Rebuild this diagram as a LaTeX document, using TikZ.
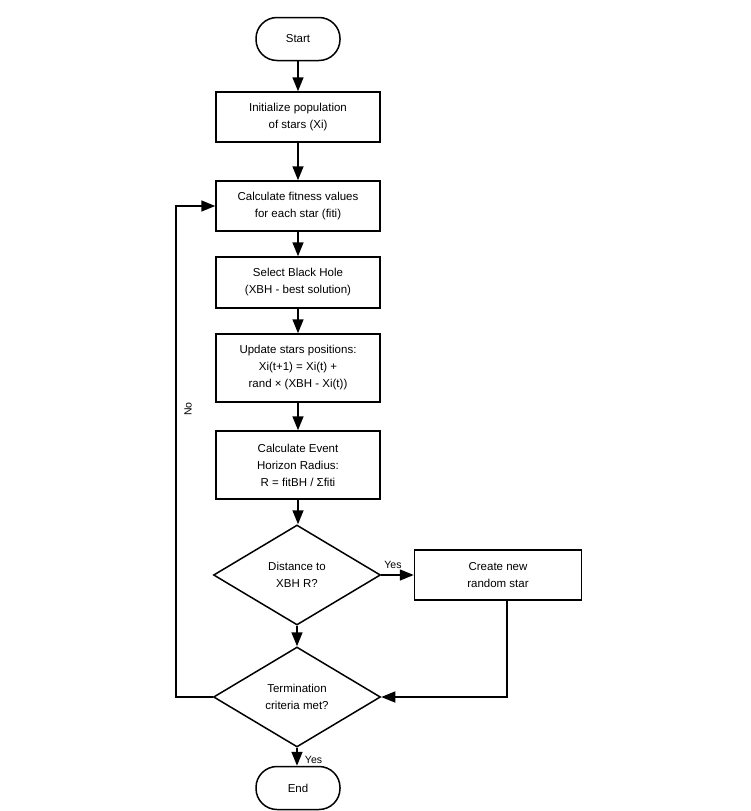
\documentclass[tikz,border=0pt]{standalone}
\usepackage{fontspec}
\setmainfont{Liberation Sans}
\usetikzlibrary{shapes.geometric, arrows.meta}

\begin{document}
\begin{tikzpicture}[x=1pt, y=1pt, yscale=-1, xscale=1,
  every node/.style={font=\fontsize{11.5}{17}\selectfont, align=center},
  proc/.style={draw, line width=1.5pt, rectangle, minimum width=164pt, inner sep=0pt},
  term/.style={draw, line width=1.5pt, rectangle, rounded corners=21pt, minimum width=84pt, minimum height=43pt},
  decide/.style={draw, line width=1.5pt, diamond, minimum width=167pt, minimum height=100pt, inner sep=0pt},
  flow/.style={line width=1.5pt, -{Triangle[length=14pt, width=11pt]}},
  lbl/.style={font=\fontsize{10.5}{12}\selectfont, inner sep=0.75pt}]
\useasboundingbox (0, 0) rectangle (750, 811);
%Shapes
\node (start) at (298, 39) [term] {Start};
\node (init) at (298, 117) [proc, minimum height=50pt] {Initialize population\\of stars (Xi)};
\node (fit) at (298, 206) [proc, minimum height=50pt] {Calculate fitness values\\for each star (fiti)};
\node (sel) at (298, 282.5) [proc, minimum height=51pt] {Select Black Hole\\(XBH - best solution)};
\node (upd) at (298, 368) [proc, minimum height=68pt] {Update stars positions:\\Xi(t+1) = Xi(t) +\\rand × (XBH - Xi(t))};
\node (ev) at (298, 465) [proc, minimum height=68pt] {Calculate Event\\Horizon Radius:\\R = fitBH / Σfiti};
\node (dist) at (297, 575) [decide] {Distance to\\XBH R?};
\node (new) at (498, 575) [proc, minimum width=167pt, minimum height=50pt] {Create new\\random star};
\node (stop) at (297, 697) [decide] {Termination\\criteria met?};
\node (end) at (298, 788) [term] {End};
\coordinate (back) at (176, 697);
%Arrows
\draw [flow] (start) -- (init);
\draw [flow] (init) -- (fit);
\draw [flow] (fit) -- (sel);
\draw [flow] (sel) -- (upd);
\draw [flow] (upd) -- (ev);
\draw [flow] (ev.south) -- (ev.south |- dist.north);
\draw [flow] (dist) -- (new);
\draw [flow] (dist) -- (stop);
\draw [flow] ([xshift=9pt]new.south) |- (stop.east);
\draw [flow] (stop.west) -- (back) |- (fit.west);
\draw [flow] (stop.south) -- (stop.south |- end.north);
%Text
\node [lbl, anchor=south] at (393, 570) {Yes};
\node [lbl, anchor=west] at (304, 760) {Yes};
\node [lbl, rotate=90] at (188, 409) {No};
\end{tikzpicture}
\end{document}
